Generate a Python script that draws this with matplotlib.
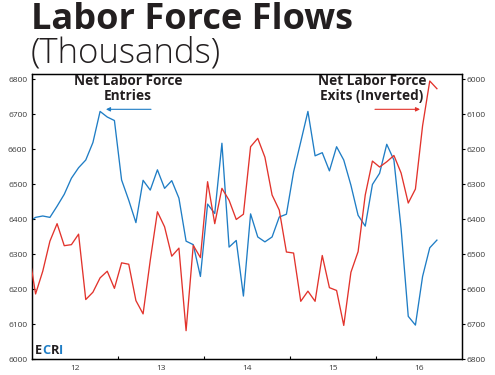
import numpy as np
import matplotlib
matplotlib.use("Agg")
import matplotlib.pyplot as plt

# monthly data, Dec 2011 .. Sep 2016 (index 0 = Dec 2011)
entries = [6392, 6405, 6409, 6405, 6437, 6471, 6517, 6547, 6569, 6619, 6708, 6692, 6682,
           6512, 6454, 6390, 6511, 6483, 6541, 6488, 6510, 6460, 6337, 6327, 6236,
           6443, 6416, 6617, 6320, 6339, 6180, 6415, 6349, 6335, 6349, 6406, 6414,
           6535, 6621, 6708, 6581, 6590, 6538, 6607, 6569, 6497, 6411, 6380, 6499,
           6531, 6614, 6569, 6373, 6122, 6097, 6236, 6318, 6340]
exits = [6486, 6614, 6549, 6463, 6413, 6476, 6473, 6443, 6630, 6609, 6568, 6549, 6598,
         6525, 6529, 6633, 6671, 6518, 6379, 6422, 6506, 6483, 6719, 6475, 6510,
         6293, 6413, 6312, 6346, 6401, 6386, 6193, 6169, 6223, 6331, 6374, 6494,
         6497, 6635, 6606, 6635, 6504, 6596, 6604, 6704, 6552, 6493, 6331, 6234,
         6251, 6236, 6218, 6268, 6354, 6314, 6133, 6005, 6027]
year_labels = ["12", "13", "14", "15", "16"]
left_ticks = [6000, 6100, 6200, 6300, 6400, 6500, 6600, 6700, 6800]
right_ticks = [6000, 6100, 6200, 6300, 6400, 6500, 6600, 6700, 6800]

BLUE = "#1f7dc5"
RED = "#e2332c"
DARK = "#231f20"
TICK = "#3a3a3a"

plt.rcParams['font.family'] = ['Open Sans', 'DejaVu Sans']

months = np.arange(len(entries))
x = 2012 + (months - 0.5) / 12.0

fig = plt.figure(figsize=(4.95, 3.75), dpi=100)
ax = fig.add_axes([32 / 495, 16 / 375, 430 / 495, 285 / 375])
ax2 = ax.twinx()

ax.plot(x, entries, color=BLUE, lw=0.95, zorder=3)
ax2.plot(x, exits, color=RED, lw=0.95, zorder=3)

ax.set_xlim(2012, 2017)
ax.set_ylim(6000, 6815)
ax2.set_ylim(6800, 5985)

# year boundaries as ticks, labels in the middle of each year
ax.set_xticks([2013, 2014, 2015, 2016])
ax.set_xticklabels([])
ax.set_xticks([2012.5 + i for i in range(len(year_labels))], minor=True)
ax.set_xticklabels(year_labels, minor=True)
ax.tick_params(axis='x', which='major', direction='in', length=2.5, width=0.8)
ax.tick_params(axis='x', which='minor', length=0, pad=4, labelsize=6, labelcolor=TICK)

ax.set_yticks(left_ticks)
ax.tick_params(axis='y', direction='in', length=2.2, width=0.8, pad=3.5,
               labelsize=6, labelcolor=TICK)
ax2.set_yticks(right_ticks)
ax2.tick_params(axis='y', direction='out', length=1.8, width=0.8, pad=1.2,
                labelsize=6, labelcolor=TICK)

for a in (ax, ax2):
    for s in a.spines.values():
        s.set_linewidth(0.9)
        s.set_color("black")

# annotations
ax.text(2013.116, 6773, "Net Labor Force\nEntries", ha='center', va='center',
        fontsize=9.8, fontweight='bold', color=DARK, linespacing=1.05, zorder=5)
ax.text(2015.953, 6773, "Net Labor Force\nExits (Inverted)", ha='center', va='center',
        fontsize=9.8, fontweight='bold', color=DARK, linespacing=1.05, zorder=5)
ax.annotate("", xy=(2012.86, 6714), xytext=(2013.384, 6714),
            arrowprops=dict(arrowstyle='-|>', color=BLUE, lw=0.8,
                            mutation_scale=6, shrinkA=0, shrinkB=0))
ax.annotate("", xy=(2016.512, 6714), xytext=(2015.988, 6714),
            arrowprops=dict(arrowstyle='-|>', color=RED, lw=0.8,
                            mutation_scale=6, shrinkA=0, shrinkB=0))

# title
fig.text(31 / 495, 1 - 29 / 375, "Labor Force Flows", fontsize=26, fontweight='bold',
         color=DARK, ha='left', va='baseline')
fig.text(31 / 495, 1 - 63 / 375, "(Thousands)", fontsize=25, fontweight='light',
         color=DARK, ha='left', va='baseline')

# ECRI logo, letters placed one after the other
renderer = fig.canvas.get_renderer()
px = 35
for letter, col in [("E", DARK), ("C", BLUE), ("R", DARK), ("I", BLUE)]:
    t = fig.text(px / 495, 1 - 353.5 / 375, letter, fontsize=9.2, fontweight='bold',
                 color=col, ha='left', va='baseline')
    px += t.get_window_extent(renderer).width + 0.2

fig.savefig("out.png", dpi=100)
